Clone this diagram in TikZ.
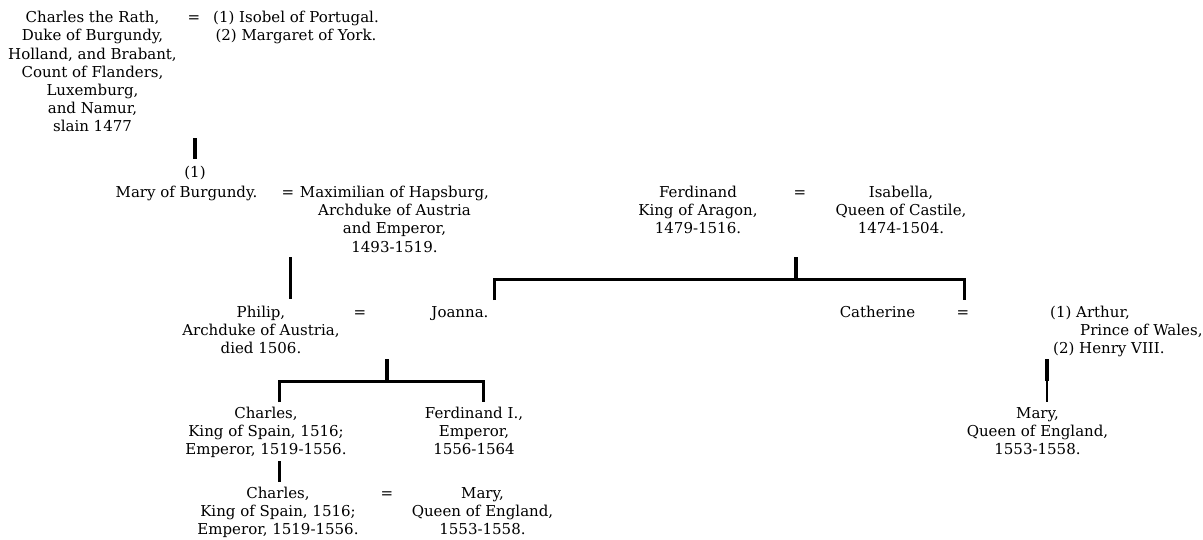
\documentclass[tikz,border=0pt]{standalone}
\usepackage{fontspec}
\setmainfont{DejaVu Serif}
\begin{document}
\begin{tikzpicture}[x=1pt,y=-1pt,
  person/.style={align=center, inner sep=0pt, anchor=base, font=\fontsize{15}{18.2}\selectfont},
  lperson/.style={align=left, inner sep=0pt, anchor=base west, font=\fontsize{15}{18.2}\selectfont},
  marr/.style={inner sep=0pt, anchor=base, font=\fontsize{15}{18.2}\selectfont},
  thick line/.style={line width=4pt},
  mid line/.style={line width=3pt},
  thin line/.style={line width=2pt}]
\useasboundingbox (0,0) rectangle (1203,539);
% generation 1 (anchors at the baseline of each text's last line)
\node[person] (charlesR) at (92.5,131.9) {Charles the Rath,\\Duke of Burgundy,\\Holland, and Brabant,\\Count of Flanders,\\Luxemburg,\\and Namur,\\slain 1477};
\node[marr] (eq1) at (194,22.7) {=};
\node[person] (wives) at (296,40.9) {(1) Isobel of Portugal.\\(2) Margaret of York.};
\coordinate (l1a) at (194.5,138);
\coordinate (l1b) at (194.5,159);
\draw[thick line] (l1a) -- (l1b);
% generation 2
\node[marr] (one) at (195,177) {(1)};
\node[person] (maryB) at (186.5,197.5) {Mary of Burgundy.};
\node[marr] (eq2) at (288,197.5) {=};
\node[person] (maxim) at (394.5,252.1) {Maximilian of Hapsburg,\\Archduke of Austria\\and Emperor,\\1493-1519.};
\node[person] (ferd) at (698,233.9) {Ferdinand\\King of Aragon,\\1479-1516.};
\node[marr] (eq3) at (800,197.5) {=};
\node[person] (isab) at (901,233.9) {Isabella,\\Queen of Castile,\\1474-1504.};
\coordinate (l2a) at (290.5,257);
\coordinate (l2b) at (290.5,299);
\draw[line width=3.5pt] (l2a) -- (l2b);
% bracket Ferdinand/Isabella children
\coordinate (fiStub) at (795.5,257);
\coordinate (fiMid) at (795.5,279);
\coordinate (fiL) at (494.5,279);
\coordinate (fiR) at (964.5,279);
\coordinate (fiLb) at (494.5,300);
\coordinate (fiRb) at (964.5,300);
\draw[thick line] (fiStub) -- (fiMid);
\draw[mid line] (fiLb) -- (fiL) -- (fiR) -- (fiRb);
% generation 3
\node[person] (philip) at (261,353.9) {Philip,\\Archduke of Austria,\\died 1506.};
\node[marr] (eq4) at (360,317.5) {=};
\node[person] (joanna) at (460,317.5) {Joanna.};
\node[person] (cath) at (877.5,317.5) {Catherine};
\node[marr] (eq5) at (963,317.5) {=};
\node[lperson] (arthur) at (1050,353.9) {(1) Arthur,\\\hspace*{30pt}Prince of Wales,\\\hspace*{3pt}(2) Henry VIII.};
\coordinate (l3a) at (1047,359);
\coordinate (l3b) at (1047,381);
\coordinate (l3c) at (1047,402);
\draw[line width=3.5pt] (l3a) -- (l3b);
\draw[thin line] (l3b) -- (l3c);
% bracket Philip/Joanna children
\coordinate (pjStub) at (387,359);
\coordinate (pjMid) at (387,381);
\coordinate (pjL) at (279,381);
\coordinate (pjR) at (483,381);
\coordinate (pjLb) at (279,402);
\coordinate (pjRb) at (483,402);
\draw[thick line] (pjStub) -- (pjMid);
\draw[mid line] (pjLb) -- (pjL) -- (pjR) -- (pjRb);
% generation 4
\node[person] (charles1) at (266,454.9) {Charles,\\King of Spain, 1516;\\Emperor, 1519-1556.};
\node[person] (ferdI) at (474,454.9) {Ferdinand I.,\\Emperor,\\1556-1564};
\node[person] (maryQ1) at (1037.5,454.9) {Mary,\\Queen of England,\\1553-1558.};
\coordinate (l4a) at (279,461);
\coordinate (l4b) at (279,482);
\draw[mid line] (l4a) -- (l4b);
% generation 5
\node[person] (charles2) at (278,534.9) {Charles,\\King of Spain, 1516;\\Emperor, 1519-1556.};
\node[marr] (eq6) at (387,498.5) {=};
\node[person] (maryQ2) at (482.5,534.9) {Mary,\\Queen of England,\\1553-1558.};
\end{tikzpicture}
\end{document}
